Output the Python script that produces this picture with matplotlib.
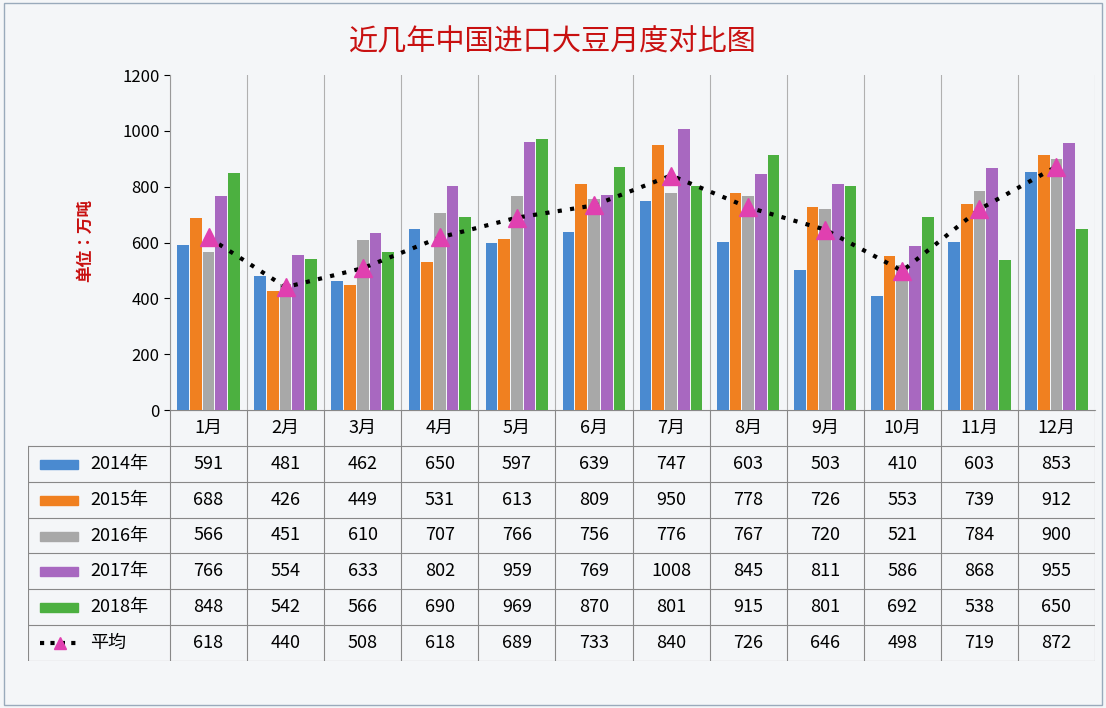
import matplotlib
matplotlib.use("Agg")
import matplotlib.pyplot as plt
from matplotlib import font_manager
import numpy as np

names = {f.name for f in font_manager.fontManager.ttflist}
cjk = [n for n in ['Noto Sans CJK SC','Noto Sans CJK JP','Noto Sans CJK TC','Noto Sans CJK KR'] if n in names]
cjk += sorted(n for n in names if 'CJK' in n)
plt.rcParams['font.family'] = cjk + ['DejaVu Sans']

months = ['1月','2月','3月','4月','5月','6月','7月','8月','9月','10月','11月','12月']
series_names = ['2014年','2015年','2016年','2017年','2018年']
v2014 = [591,481,462,650,597,639,747,603,503,410,603,853]
v2015 = [688,426,449,531,613,809,950,778,726,553,739,912]
v2016 = [566,451,610,707,766,756,776,767,720,521,784,900]
v2017 = [766,554,633,802,959,769,1008,845,811,586,868,955]
v2018 = [848,542,566,690,969,870,801,915,801,692,538,650]
avg = [618,440,508,618,689,733,840,726,646,498,719,872]
avg_name = '平均'
title = '近几年中国进口大豆月度对比图'
ylabel = '单位：万吨'

colors = ['#4a8ad0', '#f08020', '#a8a8a8', '#a868c0', '#4cb040']
series = [v2014, v2015, v2016, v2017, v2018]

W, H = 1106, 708
fig = plt.figure(figsize=(W/100, H/100), dpi=100, facecolor='#f4f6f8')
fig.add_artist(plt.Rectangle((0.004,0.004),0.992,0.992,transform=fig.transFigure,fill=False,ec='#9ab',lw=1))

L, R, T, B = 170, 1095, 75, 410
ax = fig.add_axes([L/W, 1-B/H, (R-L)/W, (B-T)/H])
ax.set_facecolor('#f4f6f8')
x = np.arange(12)
bw = 0.165
for i, (s, c) in enumerate(zip(series, colors)):
    ax.bar(x + (i-2)*bw, s, bw*0.92, color=c, zorder=3)
ax.plot(x, avg, ls=(0,(1,2)), color='black', lw=3, zorder=4)
ax.plot(x, avg, ls='none', marker='^', ms=13, color='#e040b0', zorder=5)
ax.set_xlim(-0.5, 11.5)
ax.set_ylim(0, 1200)
ax.set_yticks(range(0, 1201, 200))
ax.tick_params(axis='y', labelsize=12, length=4)
ax.set_xticks([])
for b in np.arange(-0.5, 12, 1):
    ax.axvline(b, color='#b0b0b0', lw=0.8, zorder=1)
for sp in ['top','right']:
    ax.spines[sp].set_visible(False)
ax.spines['left'].set_color('#999')
ax.spines['bottom'].set_color('#999')

fig.text(0.5, 1-42/H, title, color='#c81010', fontsize=21, ha='center', va='center')
fig.text(85/W, 1-240/H, ylabel, color='#c81010', fontsize=12, rotation=90, ha='center', va='center', fontweight='bold')

TL, TT, TB = 28, 410, 661
tax = fig.add_axes([TL/W, 1-TB/H, (R-TL)/W, (TB-TT)/H])
tax.set_xlim(TL, R); tax.set_ylim(TB, TT); tax.axis('off')
cw = (R-L)/12
rh = (TB-TT)/7
for r in range(8):
    y = TT + r*rh
    tax.plot([TL if r > 0 else L, R], [y, y], color='#888', lw=0.8)
for c in range(13):
    xx = L + c*cw
    tax.plot([xx, xx], [TT, TB], color='#888', lw=0.8)
tax.plot([TL, TL], [TT+rh, TB], color='#888', lw=0.8)
for j, m in enumerate(months):
    tax.text(L+(j+0.5)*cw, TT+0.5*rh, m, ha='center', va='center', fontsize=13)
for i in range(6):
    yc = TT + (i+1.5)*rh
    vals = series[i] if i < 5 else avg
    if i < 5:
        tax.add_patch(plt.Rectangle((40, yc-4), 38, 9, color=colors[i]))
        tax.text(90, yc, series_names[i], va='center', fontsize=13)
    else:
        tax.plot([40, 78], [yc, yc], ls=(0,(1,1.5)), color='black', lw=3)
        tax.plot([60], [yc], marker='^', ms=9, color='#e040b0')
        tax.text(90, yc, avg_name, va='center', fontsize=13)
    for j, v in enumerate(vals):
        tax.text(L+(j+0.5)*cw, yc, str(v), ha='center', va='center', fontsize=13)

fig.savefig('out.png', dpi=100, facecolor=fig.get_facecolor())
